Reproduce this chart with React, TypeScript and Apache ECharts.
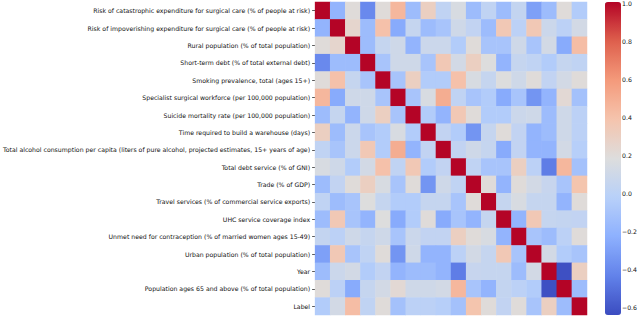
import React, { useEffect, useRef } from "react";
import * as echarts from "echarts";

const labels: string[] = [
  "Risk of catastrophic expenditure for surgical care (% of people at risk)",
  "Risk of impoverishing expenditure for surgical care (% of people at risk)",
  "Rural population (% of total population)",
  "Short-term debt (% of total external debt)",
  "Smoking prevalence, total (ages 15+)",
  "Specialist surgical workforce (per 100,000 population)",
  "Suicide mortality rate (per 100,000 population)",
  "Time required to build a warehouse (days)",
  "Total alcohol consumption per capita (liters of pure alcohol, projected estimates, 15+ years of age)",
  "Total debt service (% of GNI)",
  "Trade (% of GDP)",
  "Travel services (% of commercial service exports)",
  "UHC service coverage index",
  "Unmet need for contraception (% of married women ages 15-49)",
  "Urban population (% of total population)",
  "Year",
  "Population ages 65 and above (% of total population)",
  "Label",
];

// Upper triangle of the correlation matrix (row i, columns i+1..17)
const upperRows: number[][] = [
  [-0.2, 0.2, -0.4, 0.2, 0.45, -0.15, 0.3, 0.02, 0.15, -0.15, 0.02, -0.15, 0.04, -0.3, -0.15, 0.2, -0.05],
  [0.25, -0.15, 0.4, -0.25, 0.05, -0.15, -0.1, 0.1, 0.03, -0.15, 0.35, 0.0, 0.35, 0.08, 0.0, 0.12],
  [-0.15, 0.05, 0.1, -0.2, 0.08, 0.08, -0.05, 0.2, -0.1, -0.1, 0.1, -0.1, 0.12, -0.25, 0.42],
  [-0.1, 0.1, 0.1, -0.1, 0.35, 0.12, 0.3, 0.18, -0.2, 0.05, 0.02, -0.05, 0.05, 0.02],
  [-0.1, 0.3, -0.05, -0.05, 0.4, 0.15, 0.05, 0.18, 0.1, 0.2, 0.03, 0.12, 0.2],
  [-0.1, 0.15, 0.5, 0.02, -0.1, -0.05, -0.25, -0.1, -0.35, -0.2, 0.22, -0.12],
  [-0.05, -0.2, 0.35, 0.2, -0.05, -0.05, 0.08, 0.1, -0.15, 0.1, 0.0],
  [0.03, -0.05, -0.35, 0.05, 0.2, 0.03, -0.2, -0.15, 0.1, 0.0],
  [0.03, 0.1, 0.05, -0.25, 0.03, -0.2, -0.2, 0.12, -0.03],
  [0.02, -0.1, -0.1, 0.3, 0.0, -0.45, 0.45, -0.12],
  [0.2, -0.2, 0.2, 0.12, 0.06, -0.1, 0.38],
  [0.05, 0.15, 0.05, 0.05, -0.2, 0.2],
  [-0.2, 0.35, 0.05, 0.04, 0.03],
  [-0.1, -0.15, 0.0, 0.2],
  [0.12, -0.05, -0.1],
  [-0.62, 0.3],
  [-0.15],
  [],
];

const colorbarTicks: number[] = [-0.6, -0.4, -0.2, 0.0, 0.2, 0.4, 0.6, 0.8, 1.0];
const vMin = -0.637;
const vMax = 1.0;

const coolwarm = [
  "#3b4cc0", "#6282ea", "#8db0fe", "#b8d0f9", "#dddddd",
  "#f5c4ad", "#f49a7b", "#de604d", "#b40426",
];

function buildData() {
  const n = labels.length;
  const m: number[][] = [];
  for (let i = 0; i < n; i++) m.push(new Array(n).fill(1));
  for (let i = 0; i < n; i++) {
    upperRows[i].forEach((v, k) => {
      const j = i + 1 + k;
      m[i][j] = v;
      m[j][i] = v;
    });
  }
  const data: [number, number, number][] = [];
  for (let i = 0; i < n; i++) for (let j = 0; j < n; j++) data.push([j, i, m[i][j]]);
  return data;
}

export default function App() {
  const ref = useRef<HTMLDivElement>(null);
  useEffect(() => {
    if (!ref.current) return;
    const chart = echarts.init(ref.current, undefined, { renderer: "svg" });
    const font = "DejaVu Sans";
    chart.setOption({
      animation: false,
      textStyle: { fontFamily: font },
      grid: [
        { left: 312, right: 53, top: 2, height: 313 },
        { left: 605, width: 16, top: 2, height: 313 },
      ],
      xAxis: [
        { type: "category", data: labels, show: false, gridIndex: 0 },
        { type: "value", show: false, gridIndex: 1, min: 0, max: 1 },
      ],
      yAxis: [
        {
          type: "category",
          data: labels,
          inverse: true,
          gridIndex: 0,
          axisLine: { show: false },
          axisTick: { show: true, length: 3, alignWithLabel: true, lineStyle: { color: "#333", width: 0.8 } },
          axisLabel: { fontSize: 6.2, color: "#111", margin: 5, fontFamily: font, interval: 0 },
          splitLine: { show: false },
        },
        {
          type: "value",
          gridIndex: 1,
          position: "right",
          min: vMin,
          max: vMax,
          axisLine: { show: false },
          splitLine: { show: false },
          axisTick: { show: true, length: 3, customValues: colorbarTicks, lineStyle: { color: "#333", width: 0.8 } },
          axisLabel: {
            customValues: colorbarTicks,
            fontSize: 6.2,
            color: "#111",
            margin: 4,
            fontFamily: font,
            formatter: (v: number) => v.toFixed(1).replace("-", "\u2212"),
          },
        },
      ],
      visualMap: {
        type: "continuous",
        min: vMin,
        max: vMax,
        seriesIndex: 0,
        calculable: false,
        orient: "vertical",
        left: 605,
        top: 2,
        itemWidth: 16,
        itemHeight: 313,
        padding: 0,
        text: null,
        showLabel: false,
        hoverLink: false,
        inRange: { color: coolwarm },
      },
      series: [
        {
          type: "heatmap",
          xAxisIndex: 0,
          yAxisIndex: 0,
          data: buildData(),
          itemStyle: { borderWidth: 0 },
          emphasis: { disabled: true },
        },
      ],
    });
    return () => chart.dispose();
  }, []);
  return (
    <div
      ref={ref}
      style={{ position: "fixed", left: 0, top: 0, width: 640, height: 316, background: "#fff" }}
    />
  );
}
